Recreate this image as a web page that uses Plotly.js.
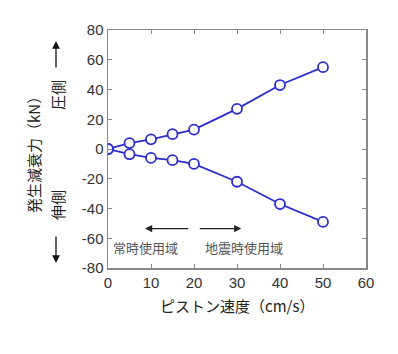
<!DOCTYPE html>
<html><head><meta charset="utf-8">
<script src="https://cdn.plot.ly/plotly-3.0.1.min.js"></script>
<style>html,body{margin:0;padding:0;background:#fff}#c{width:398px;height:354px}</style>
</head><body><div id="c"></div>
<script>
const speed = [0, 5, 10, 15, 20, 30, 40, 50];
const compression = [0, 4, 6.5, 10, 13, 27, 43, 55];
const extension = [0, -3.5, -6, -7.5, -10, -22, -37, -49];
const xTicks = [0, 10, 20, 30, 40, 50, 60];
const yTicks = [-80, -60, -40, -20, 0, 20, 40, 60, 80];
const xTitle = 'ピストン速度（cm/s）';
const yTitle = '発生減衰力（kN）';
const compLabel = '圧側';
const extLabel = '伸側';
const normalLabel = '常時使用域';
const quakeLabel = '地震時使用域';

const blue = 'rgb(45,45,205)';
const jp = '"Noto Sans CJK JP", sans-serif';
const mk = {symbol: 'circle', size: 10, color: 'white', line: {width: 1.8, color: blue}};
const traces = [
  {x: speed, y: compression, mode: 'lines+markers', line: {color: blue, width: 1.8}, marker: mk, hoverinfo: 'none'},
  {x: speed, y: extension, mode: 'lines+markers', line: {color: blue, width: 1.8}, marker: mk, hoverinfo: 'none'}
];
const axisCommon = {
  showgrid: false, zeroline: false, showline: true, linecolor: '#888', linewidth: 1.5,
  mirror: 'ticks', ticks: 'inside', ticklen: 4, tickcolor: '#888', tickwidth: 1,
  tickfont: {family: '"Liberation Sans", Arial, sans-serif', size: 15, color: '#333'}
};
const W = 258; // plot width px
const H = 238;
const px = v => (v - 108) / W;
const py = v => (268 - v) / H;
const layout = {
  width: 398, height: 354, margin: {l: 108, r: 32, t: 30, b: 86},
  paper_bgcolor: '#fff', plot_bgcolor: '#fff', showlegend: false,
  xaxis: Object.assign({}, axisCommon, {range: [0, 60], tickvals: xTicks, ticktext: xTicks.map(String)}),
  yaxis: Object.assign({}, axisCommon, {range: [-80, 80], tickvals: yTicks, ticktext: yTicks.map(String)}),
  annotations: [
    {xref: 'paper', yref: 'paper', x: 0.5, y: py(305), text: xTitle, showarrow: false,
     font: {family: jp, size: 15, color: '#222'}, xanchor: 'center', yanchor: 'middle'},
    {xref: 'paper', yref: 'paper', x: px(33), y: py(151), text: yTitle, showarrow: false, textangle: -90,
     font: {family: jp, size: 15, color: '#222'}, xanchor: 'center', yanchor: 'middle'},
    {xref: 'paper', yref: 'paper', x: px(57), y: py(95), text: compLabel, showarrow: false, textangle: -90,
     font: {family: jp, size: 15, color: '#222'}, xanchor: 'center', yanchor: 'middle'},
    {xref: 'paper', yref: 'paper', x: px(57), y: py(205), text: extLabel, showarrow: false, textangle: -90,
     font: {family: jp, size: 15, color: '#222'}, xanchor: 'center', yanchor: 'middle'},
    {xref: 'paper', yref: 'paper', x: px(56), y: py(41), text: '', showarrow: true, ax: 0, ay: 28,
     arrowhead: 2, arrowsize: 1.2, arrowwidth: 1.3, arrowcolor: '#111'},
    {xref: 'paper', yref: 'paper', x: px(56), y: py(263), text: '', showarrow: true, ax: 0, ay: -28,
     arrowhead: 2, arrowsize: 1.2, arrowwidth: 1.3, arrowcolor: '#111'},
    {xref: 'x', yref: 'y', x: 8.6, y: -53.5, ax: 19, ay: -53.5, axref: 'x', ayref: 'y', text: '', showarrow: true,
     arrowhead: 2, arrowsize: 1.2, arrowwidth: 1.2, arrowcolor: '#222'},
    {xref: 'x', yref: 'y', x: 31, y: -53.5, ax: 21, ay: -53.5, axref: 'x', ayref: 'y', text: '', showarrow: true,
     arrowhead: 2, arrowsize: 1.2, arrowwidth: 1.2, arrowcolor: '#222'},
    {xref: 'x', yref: 'y', x: 0.8, y: -66.5, text: normalLabel, showarrow: false, xanchor: 'left', yanchor: 'middle',
     font: {family: jp, size: 13, color: '#555'}},
    {xref: 'x', yref: 'y', x: 22, y: -66.5, text: quakeLabel, showarrow: false, xanchor: 'left', yanchor: 'middle',
     font: {family: jp, size: 13, color: '#555'}}
  ]
};
Plotly.newPlot('c', traces, layout, {displayModeBar: false, staticPlot: true});
</script></body></html>
